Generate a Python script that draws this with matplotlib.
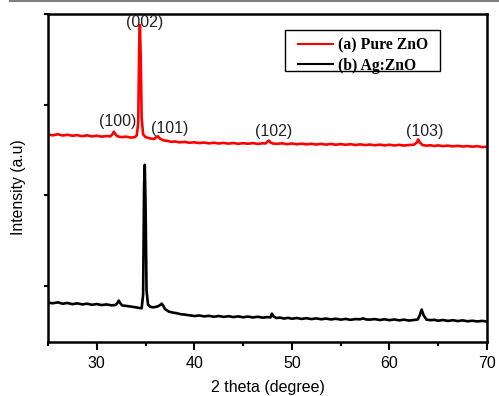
import matplotlib
matplotlib.use("Agg")
import matplotlib.pyplot as plt
from matplotlib.lines import Line2D
from matplotlib.patches import Rectangle
from matplotlib.ticker import MultipleLocator, NullFormatter

# ---- data ----
theta_a = [25.0, 25.5, 26.0, 26.5, 27.0, 27.5, 28.0, 28.5, 29.0, 29.5, 30.0, 30.5,
           31.0, 31.4, 31.6, 31.75, 31.9, 32.1, 32.5, 33.0, 33.5, 33.9, 34.1, 34.25,
           34.35, 34.42, 34.5, 34.6, 34.75, 35.0, 35.5, 35.9, 36.1, 36.25, 36.45, 36.8,
           37.2, 37.6, 38.0, 38.5, 39.0, 39.5, 40.0, 40.5, 41.0, 41.5, 42.0, 42.5,
           43.0, 43.5, 44.0, 44.5, 45.0, 45.5, 46.0, 46.5, 47.0, 47.3, 47.5, 47.65,
           47.8, 48.0, 48.5, 49.0, 49.5, 50.0, 50.5, 51.0, 51.5, 52.0, 52.5, 53.0,
           53.5, 54.0, 54.5, 55.0, 55.5, 56.0, 56.5, 57.0, 57.5, 58.0, 58.5, 59.0,
           59.5, 60.0, 60.5, 61.0, 61.5, 62.0, 62.5, 62.8, 62.95, 63.1, 63.4, 63.8,
           64.2, 64.6, 65.0, 65.5, 66.0, 66.5, 67.0, 67.5, 68.0, 68.5, 69.0, 69.5, 70.0]
int_a = [2668, 2660, 2672, 2658, 2666, 2655, 2662, 2650, 2660, 2648, 2655, 2645,
         2652, 2648, 2672, 2700, 2675, 2650, 2640, 2645, 2635, 2640, 2660, 2800,
         3650, 3879, 3550, 2850, 2670, 2640, 2625, 2620, 2640, 2650, 2625, 2605,
         2600, 2588, 2592, 2582, 2588, 2578, 2583, 2574, 2580, 2571, 2578, 2570,
         2576, 2568, 2575, 2566, 2573, 2567, 2574, 2565, 2572, 2570, 2590, 2602,
         2582, 2570, 2566, 2572, 2562, 2570, 2561, 2568, 2560, 2567, 2558, 2566,
         2557, 2565, 2556, 2563, 2555, 2562, 2553, 2560, 2552, 2558, 2550, 2557,
         2549, 2556, 2548, 2555, 2547, 2553, 2556, 2580, 2615, 2582, 2552, 2546,
         2550, 2542, 2549, 2540, 2546, 2538, 2544, 2536, 2542, 2534, 2540, 2530, 2533]

theta_b = [25.0, 25.5, 26.0, 26.5, 27.0, 27.5, 28.0, 28.5, 29.0, 29.5, 30.0, 30.5,
           31.0, 31.5, 31.9, 32.1, 32.25, 32.4, 32.6, 33.0, 33.5, 34.0, 34.4, 34.6,
           34.75, 34.85, 34.92, 35.0, 35.1, 35.25, 35.5, 35.8, 36.2, 36.5, 36.65,
           36.8, 37.0, 37.4, 37.8, 38.2, 38.6, 39.0, 39.5, 40.0, 40.5, 41.0, 41.5,
           42.0, 42.5, 43.0, 43.5, 44.0, 44.5, 45.0, 45.5, 46.0, 46.5, 47.0, 47.5,
           47.8, 47.95, 48.1, 48.4, 48.8, 49.2, 49.6, 50.0, 50.5, 51.0, 51.5, 52.0,
           52.5, 53.0, 53.5, 54.0, 54.5, 55.0, 55.5, 56.0, 56.5, 57.0, 57.3, 57.6,
           58.0, 58.5, 59.0, 59.5, 60.0, 60.5, 61.0, 61.5, 62.0, 62.5, 62.9, 63.1,
           63.3, 63.5, 63.8, 64.2, 64.6, 65.0, 65.5, 66.0, 66.5, 67.0, 67.5, 68.0,
           68.5, 69.0, 69.5, 70.0]
int_b = [812, 805, 815, 800, 808, 795, 804, 792, 800, 788, 796, 785,
         792, 782, 785, 805, 834, 808, 780, 776, 768, 760, 752, 750,
         900, 2100, 2334, 1900, 950, 790, 765, 760, 768, 785, 801,
         780, 740, 712, 702, 695, 684, 680, 672, 664, 670, 660, 666,
         656, 664, 654, 662, 652, 660, 650, 658, 648, 656, 646, 652,
         648, 690, 662, 642, 646, 636, 644, 634, 642, 632, 640, 630,
         638, 628, 636, 626, 634, 624, 632, 622, 630, 628, 638, 626,
         624, 630, 620, 628, 618, 626, 616, 624, 614, 620, 626, 670,
         735, 672, 624, 618, 622, 612, 620, 610, 618, 608, 616, 606,
         612, 604, 610, 603]

series_labels = ["(a) Pure ZnO", "(b) Ag:ZnO"]
peak_labels = ["(002)", "(100)", "(101)", "(102)", "(103)"]
peak_label_x = [34.95, 32.13, 37.46, 48.08, 63.62]
peak_label_y = [3905, 2815, 2738, 2705, 2705]

# ---- figure ----
W, H = 499, 396
fig = plt.figure(figsize=(W / 100, H / 100), dpi=100)
ax = fig.add_axes([48 / W, 1 - 342 / H, 439 / W, 328 / H])

sans = ["Liberation Sans", "DejaVu Sans"]
serif = ["Liberation Serif", "DejaVu Serif"]

ax.plot(theta_a, int_a, color="#ff0000", lw=1.9, label=series_labels[0], solid_joinstyle="round")
ax.plot(theta_b, int_b, color="#000000", lw=1.9, label=series_labels[1], solid_joinstyle="round")

for t, x, y in zip(peak_labels, peak_label_x, peak_label_y):
    ax.text(x, y, t, ha="center", va="center", fontsize=11.5, family=sans, color="#222222")

ax.set_xlim(25, 70)
ax.set_ylim(377, 4000)
ax.xaxis.set_major_locator(MultipleLocator(10))
ax.xaxis.set_minor_locator(MultipleLocator(5))
ax.yaxis.set_major_locator(MultipleLocator(1000))
ax.yaxis.set_major_formatter(NullFormatter())

ax.tick_params(axis="x", which="major", direction="out", length=6, width=1.5,
               labelsize=11.5, pad=4)
ax.tick_params(axis="x", which="minor", direction="out", length=3, width=1.5)
ax.tick_params(axis="y", which="major", direction="out", length=3, width=1.5)
for lab in ax.get_xticklabels():
    lab.set_family(sans)

for s in ax.spines.values():
    s.set_linewidth(1.8)
    s.set_color("black")

ax.set_xlabel("2 theta (degree)", fontsize=11.5, family=sans, labelpad=6.5)
ax.set_ylabel("Intensity (a.u)", fontsize=11.3, family=sans)
ax.yaxis.set_label_coords((26 - 48) / 439, (342 - 187.5) / 328)

# legend: frame drawn as a rectangle, entries via the legend
frame = Rectangle((285 / W, 1 - 71 / H), 155 / W, 41 / H, transform=fig.transFigure,
                  facecolor="white", edgecolor="black", lw=1.0, zorder=4, clip_on=False)
ax.add_patch(frame)
leg = ax.legend(loc="upper left", bbox_to_anchor=(298 / W, 1 - 37 / H),
                bbox_transform=fig.transFigure,
                prop={"family": serif, "weight": "bold", "size": 11.3},
                frameon=False, handlelength=2.2, handletextpad=0.33,
                borderpad=0, labelspacing=0.3, borderaxespad=0)
leg.set_zorder(5)
for h in leg.get_lines():
    h.set_linewidth(1.5)

# page border line at the top of the image
fig.add_artist(Line2D([10 / W, 1], [1 - 1 / H, 1 - 1 / H], transform=fig.transFigure,
                      color="#808080", lw=1.5))

fig.savefig("out.png", dpi=100)
